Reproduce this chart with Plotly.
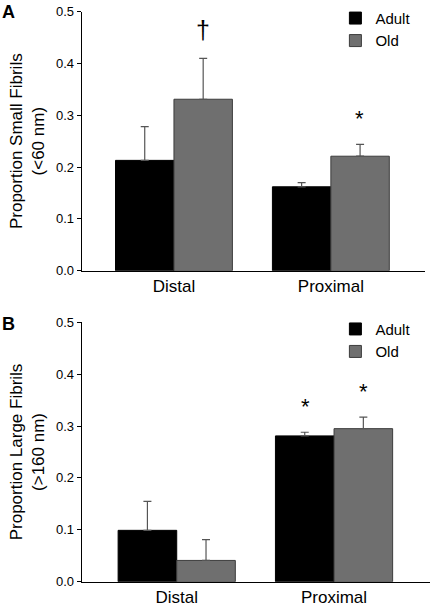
import plotly.graph_objects as go

categories = ["Distal", "Proximal"]
groups = ["Adult", "Old"]

# Panel A: proportion small fibrils (<60 nm)
small_adult = [0.213, 0.162]
small_adult_err = [0.065, 0.008]
small_old = [0.331, 0.221]
small_old_err = [0.079, 0.023]
small_marks_old = ["†", "*"]

# Panel B: proportion large fibrils (>160 nm)
large_adult = [0.099, 0.281]
large_adult_err = [0.056, 0.007]
large_old = [0.041, 0.295]
large_old_err = [0.040, 0.022]
large_marks_adult = ["", "*"]
large_marks_old = ["", "*"]

y_ticks = [0.0, 0.1, 0.2, 0.3, 0.4, 0.5]

FONT = "Liberation Sans, Arial, sans-serif"
ADULT_FILL = "#000000"
OLD_FILL = "#6f6f6f"
OLD_LINE = "#3c3c3c"
ERR_COLOR = "#555555"

fig = go.Figure()


def add_bars(vals, errs, name, fill, line, xa, ya, legend):
    fig.add_trace(go.Bar(
        x=categories, y=vals, name=name,
        marker=dict(color=fill, line=dict(color=line, width=1)),
        error_y=dict(type="data", symmetric=False, array=errs,
                     arrayminus=[0] * len(errs), color=ERR_COLOR,
                     thickness=1.2, width=4),
        xaxis=xa, yaxis=ya, legend=legend,
    ))


add_bars(small_adult, small_adult_err, groups[0], ADULT_FILL, "#000000", "x", "y", "legend")
add_bars(small_old, small_old_err, groups[1], OLD_FILL, OLD_LINE, "x", "y", "legend")
add_bars(large_adult, large_adult_err, groups[0], ADULT_FILL, "#000000", "x2", "y2", "legend2")
add_bars(large_old, large_old_err, groups[1], OLD_FILL, OLD_LINE, "x2", "y2", "legend2")

BAR_SHIFT = 29  # px offset of each bar in a group from the category centre

annotations = []


def add_marks(marks, vals, errs, xref, yref, shift):
    for cat, m, v, e in zip(categories, marks, vals, errs):
        if not m:
            continue
        dag = m == "†"
        annotations.append(dict(
            x=cat, y=v + e, xref=xref, yref=yref, text=m, showarrow=False,
            xshift=shift, yshift=12 if dag else 11, yanchor="bottom",
            font=dict(family=FONT, size=25 if dag else 22, color="#000000"),
        ))


add_marks(small_marks_old, small_old, small_old_err, "x", "y", BAR_SHIFT)
add_marks(large_marks_adult, large_adult, large_adult_err, "x2", "y2", -BAR_SHIFT)
add_marks(large_marks_old, large_old, large_old_err, "x2", "y2", BAR_SHIFT)

annotations += [
    dict(x=0.0, y=1.0, xref="paper", yref="paper", text="<b>A</b>", showarrow=False,
         xanchor="left", yanchor="top", font=dict(family=FONT, size=18, color="#000")),
    dict(x=0.0, y=0.4855, xref="paper", yref="paper", text="<b>B</b>", showarrow=False,
         xanchor="left", yanchor="top", font=dict(family=FONT, size=18, color="#000")),
]

common_y = dict(
    range=[0, 0.5], tickvals=y_ticks, tickformat=".1f", ticks="outside", ticklen=4,
    tickwidth=1, tickcolor="#000", showline=True, linecolor="#000", linewidth=1.2,
    showgrid=False, zeroline=False, automargin=False,
    tickfont=dict(family=FONT, size=13, color="#000"),
    title=dict(font=dict(family=FONT, size=17, color="#000"), standoff=6),
)
common_x = dict(
    type="category", showline=True, linecolor="#000", linewidth=1.2, ticks="",
    showgrid=False, automargin=False, tickfont=dict(family=FONT, size=17, color="#000"),
)

legend_common = dict(
    font=dict(family=FONT, size=15, color="#000"), bgcolor="rgba(0,0,0,0)",
    xanchor="left", yanchor="top", tracegroupgap=0, itemwidth=30,
)

fig.update_layout(
    template="none",
    width=430, height=606,
    margin=dict(l=0, r=0, t=0, b=0, autoexpand=False),
    paper_bgcolor="#ffffff", plot_bgcolor="#ffffff",
    barmode="group", bargap=0.255, bargroupgap=0,
    font=dict(family=FONT, color="#000"),
    xaxis=dict(common_x, domain=[0.190, 0.988], range=[-0.588, 1.599], anchor="y"),
    yaxis=dict(common_y, domain=[0.5533, 0.9807], anchor="x",
               title=dict(common_y["title"], text="Proportion Small Fibrils<br>(&lt;60 nm)")),
    xaxis2=dict(common_x, domain=[0.190, 1.0], range=[-0.604, 1.610], anchor="y2"),
    yaxis2=dict(common_y, domain=[0.0401, 0.4682], anchor="x2",
                title=dict(common_y["title"], text="Proportion Large Fibrils<br>(&gt;160 nm)")),
    legend=dict(legend_common, x=0.78, y=0.997),
    legend2=dict(legend_common, x=0.78, y=0.484),
    annotations=annotations,
    showlegend=True,
)

fig.write_html("out.html", config={"displayModeBar": False},
               post_script="document.body.style.margin='0';")
